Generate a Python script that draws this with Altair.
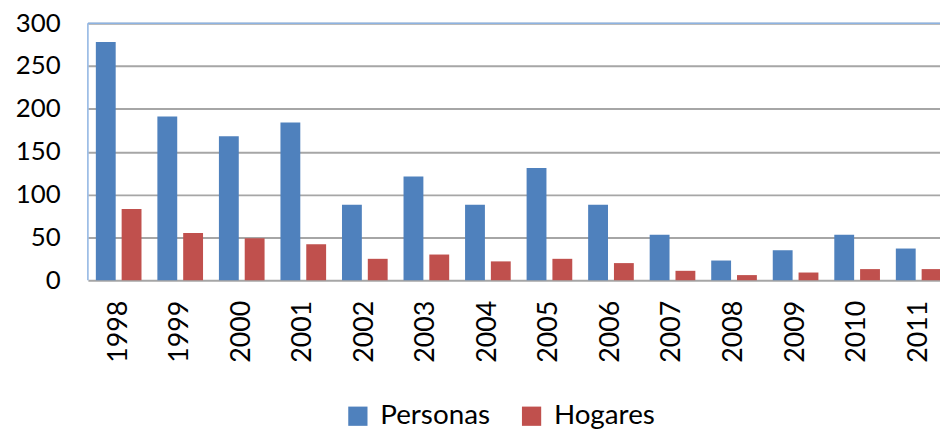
import altair as alt
import pandas as pd

years = ["1998", "1999", "2000", "2001", "2002", "2003", "2004",
         "2005", "2006", "2007", "2008", "2009", "2010", "2011"]
personas = [278, 191, 168, 184, 88, 121, 88, 131, 88, 53, 23, 35, 53, 37]
hogares = [83, 55, 49, 42, 25, 30, 22, 25, 20, 11, 6, 9, 13, 13]
series = ["Personas", "Hogares"]
colors = ["#4F81BD", "#C0504D"]
y_ticks = [0, 50, 100, 150, 200, 250, 300]

rows = []
for i, yr in enumerate(years):
    rows.append({"year": yr, "serie": "Personas", "value": personas[i]})
    rows.append({"year": yr, "serie": "Hogares", "value": hogares[i]})
df = pd.DataFrame(rows)

FONT = "Lato"
W = 868
H = 259

bars = alt.Chart(df).mark_bar().encode(
    x=alt.X(
        "year:N", sort=years,
        scale=alt.Scale(paddingInner=0, paddingOuter=0),
        axis=alt.Axis(title=None, labelAngle=-90, ticks=False, domain=False,
                      labelPadding=20, labelFontSize=27, labelFont=FONT,
                      labelColor="#000000", grid=False),
    ),
    xOffset=alt.XOffset("serie:N", sort=series,
                        scale=alt.Scale(paddingInner=0.2308, paddingOuter=0.3077)),
    y=alt.Y(
        "value:Q",
        scale=alt.Scale(domain=[0, 300], nice=False),
        axis=alt.Axis(values=y_ticks, title=None, ticks=False, domain=False,
                      labelPadding=28, labelFontSize=26, labelFont=FONT,
                      labelColor="#000000", grid=True, gridColor="#A6A6A6",
                      gridWidth=2),
    ),
    color=alt.Color(
        "serie:N", sort=series,
        scale=alt.Scale(domain=series, range=colors),
        legend=alt.Legend(title=None, orient="none", legendX=258, legendY=382,
                          direction="horizontal", symbolType="square",
                          symbolSize=376, symbolStrokeWidth=0,
                          labelFontSize=28, labelFont=FONT, labelColor="#000000",
                          columnPadding=27, labelOffset=8.5),
    ),
)

top = alt.Chart(pd.DataFrame({"k": [1]})).mark_rule(
    color="#8DB3E2", strokeWidth=1.5
).encode(y=alt.value(0), x=alt.value(0), x2=alt.value(W))

left = alt.Chart(pd.DataFrame({"k": [1]})).mark_rule(
    color="#8DB3E2", strokeWidth=1.5
).encode(x=alt.value(0), y=alt.value(0), y2=alt.value(H))

chart = alt.layer(bars, top, left).properties(
    width=W, height=H,
    padding={"left": 80.5, "top": 13.7, "right": -9.5, "bottom": 150},
    autosize=alt.AutoSizeParams(type="none"),
).configure_view(stroke=None)

chart.save("out.html", embed_options={"renderer": "svg", "actions": False})
